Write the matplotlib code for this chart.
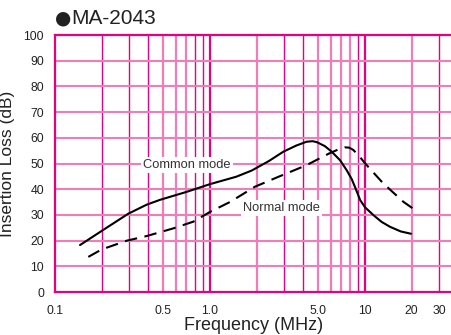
import matplotlib
matplotlib.use("Agg")
import matplotlib.pyplot as plt

plt.rcParams['font.family'] = ['Liberation Sans', 'DejaVu Sans']

# Data
common_freq = [0.145, 0.2, 0.297, 0.39, 0.476, 0.707, 1.0, 1.48, 1.86, 2.4, 2.97, 3.6, 4.2, 4.6, 4.9, 5.5, 6.1, 6.9, 7.6, 8.2, 8.6, 9.0, 9.3, 10.0, 11.3, 12.8, 14.5, 17.0, 19.8]
common_db = [18.3, 23.8, 30.5, 34.0, 35.9, 39.0, 42.0, 44.9, 47.3, 51.0, 54.6, 57.0, 58.5, 58.7, 58.3, 56.8, 54.6, 51.3, 47.5, 44.0, 41.0, 38.0, 35.8, 33.0, 30.0, 27.3, 25.4, 23.6, 22.7]
normal_freq = [0.164, 0.2, 0.29, 0.39, 0.58, 0.78, 1.0, 1.35, 1.95, 2.8, 4.2, 5.9, 6.8, 7.4, 7.9, 8.4, 9.2, 10.0, 13.1, 17.7, 21.9]
normal_db = [13.7, 16.6, 20.0, 21.8, 24.8, 27.4, 31.2, 35.1, 41.0, 45.0, 49.4, 54.0, 55.6, 56.3, 56.2, 55.3, 52.8, 50.1, 42.3, 35.1, 31.2]

xtick_vals = [0.1, 0.5, 1.0, 5.0, 10, 20, 30]
xtick_labels = ['0.1', '0.5', '1.0', '5.0', '10', '20', '30']
ytick_vals = [0, 10, 20, 30, 40, 50, 60, 70, 80, 90, 100]

dark_grid = [0.2, 0.3, 0.4, 0.8, 0.9, 3, 4, 9, 30]
light_grid = [0.5, 0.6, 0.7, 2, 5, 6, 7, 8, 20]
major_grid = [1.0, 10]

DARK = '#e5007f'
LIGHT = '#f27cb8'

fig = plt.figure(figsize=(4.52, 3.35), dpi=100)
ax = fig.add_axes([0.1217, 0.128, 0.8783, 0.7675])
ax.set_xscale('log')
ax.set_xlim(0.1, 36.4)
ax.set_ylim(0, 100)

for v in dark_grid:
    ax.axvline(v, color=DARK, lw=1.0, zorder=1)
for v in light_grid:
    ax.axvline(v, color=LIGHT, lw=1.6, zorder=1)
for v in major_grid:
    ax.axvline(v, color=DARK, lw=1.6, zorder=1)
for v in ytick_vals[1:-1]:
    ax.axhline(v, color=LIGHT, lw=1.5, zorder=1)

for side in ['left', 'bottom', 'top']:
    ax.spines[side].set_color(DARK)
    ax.spines[side].set_linewidth(1.6)
ax.spines['right'].set_visible(False)

ax.plot(common_freq, common_db, color='black', lw=1.5, zorder=3,
        solid_joinstyle='round', solid_capstyle='round')
ax.plot(normal_freq, normal_db, color='black', lw=1.5, ls=(0, (6, 3.6)), zorder=3,
        dash_joinstyle='round')

ax.text(0.71, 49.4, 'Common mode', fontsize=9.3, color='#333333', ha='center', va='center',
        bbox=dict(facecolor='white', edgecolor='none', pad=1.5), zorder=2)
ax.text(2.91, 32.6, 'Normal mode', fontsize=9.3, color='#333333', ha='center', va='center',
        bbox=dict(facecolor='white', edgecolor='none', pad=1.5), zorder=2)

ax.set_xticks(xtick_vals)
ax.set_xticklabels(xtick_labels)
ax.minorticks_off()
ax.set_yticks(ytick_vals)
ax.tick_params(axis='both', length=0, labelsize=8.8, colors='#222222')
ax.tick_params(axis='x', pad=9)
ax.tick_params(axis='y', pad=8)

ax.set_xlabel('Frequency (MHz)', fontsize=13, color='#222222', labelpad=0)
ax.set_ylabel('Insertion Loss (dB)', fontsize=12.5, color='#222222', labelpad=6)

fig.text(55 / 452, 1 - 18 / 335, '\u25cf', fontsize=13.5, color='#222222', ha='left', va='center',
         family='DejaVu Sans')
fig.text(71.5 / 452, 1 - 18 / 335, 'MA-2043', fontsize=15, color='#222222', ha='left', va='center')

fig.savefig('out.png', dpi=100)
